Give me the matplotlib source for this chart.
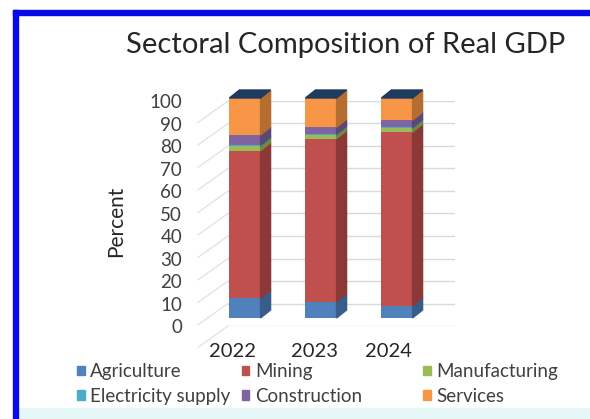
import numpy as np
import matplotlib.pyplot as plt
from matplotlib.patches import Polygon, Rectangle, Patch
from matplotlib.transforms import ScaledTranslation

plt.rcParams['font.family'] = ['Lato', 'DejaVu Sans']

# data (percent of real GDP)
years = ['2022', '2023', '2024']
sectors = ['Agriculture', 'Mining', 'Manufacturing',
           'Electricity supply', 'Construction', 'Services']
agriculture = [9.0, 7.5, 5.5]
mining = [67.0, 74.0, 79.0]
manufacturing = [2.2, 1.8, 1.8]
electricity = [0.5, 0.4, 0.4]
construction = [4.5, 3.0, 3.2]
services = [16.8, 13.3, 10.1]
series = [agriculture, mining, manufacturing, electricity, construction, services]

front_colors = ['#4f81bd', '#c0504d', '#9bbb59', '#4bacc6', '#8064a2', '#f79646']
side_colors = ['#385d8a', '#8c3836', '#71893f', '#357d91', '#5c4776', '#b66d31']
top_color = '#1f3a5f'

W, H = 590, 419
fig = plt.figure(figsize=(W / 100, H / 100), dpi=100)


def box(x0, y0, x1, y1):
    # pixel box (from top-left) -> figure fraction rect
    return [x0 / W, 1 - y1 / H, (x1 - x0) / W, (y1 - y0) / H]


# frame decoration
fig.patches.append(Rectangle((18 / W, 0), 1, 11 / H, transform=fig.transFigure,
                             color='#e6f7f8', zorder=0))
fig.patches.append(Rectangle((13 / W, 0), 5 / W, 1 - 10 / H, transform=fig.transFigure,
                             color='#0a0ae6', zorder=1))
fig.patches.append(Rectangle((13 / W, 1 - 15 / H), 1, 5 / H, transform=fig.transFigure,
                             color='#0a0ae6', zorder=1))

# back wall with gridlines and value axis
ax = fig.add_axes(box(228, 101, 455, 326))
ax.set_ylim(0, 100)
ax.set_yticks(np.arange(0, 101, 10))
ax.set_xticks([])
ax.grid(axis='y', color='#d9d9d9', lw=1)
for s in ax.spines.values():
    s.set_visible(False)
ax.tick_params(axis='y', length=0, pad=33, labelsize=13.5, labelcolor='#404040')
for g in np.arange(0, 101, 10):
    ax.plot([-30 / 227, 0], [g - 9.5, g], transform=ax.get_yaxis_transform(),
            clip_on=False, color='#e3e3e3', lw=1)

# bars
ax2 = fig.add_axes(box(207, 98, 435, 318))
ax2.set_xlim(-0.5, 2.5)
ax2.set_ylim(0, 100)
ax2.patch.set_alpha(0)
for s in ax2.spines.values():
    s.set_visible(False)
ax2.set_yticks([])

x = np.arange(len(years))
width = 0.41
dx = 10 / 76
dy = 8 / 2.2
bottom = np.zeros(len(years))
for vals, fc, sc in zip(series, front_colors, side_colors):
    vals = np.array(vals)
    ax2.bar(x, vals, width, bottom=bottom, color=fc, zorder=2)
    for xi, b, v in zip(x, bottom, vals):
        xr = xi + width / 2
        ax2.add_patch(Polygon([(xr, b), (xr + dx, b + dy), (xr + dx, b + v + dy), (xr, b + v)],
                              closed=True, color=sc, clip_on=False, zorder=2))
    bottom = bottom + vals
for xi, t in zip(x, bottom):
    xl, xr = xi - width / 2, xi + width / 2
    ax2.add_patch(Polygon([(xl, t), (xl + dx, t + dy), (xr + dx, t + dy), (xr, t)],
                          closed=True, color=top_color, clip_on=False, zorder=3))

ax2.set_xticks(x)
ax2.set_xticklabels(years, fontsize=14.5, color='#262626')
ax2.tick_params(axis='x', length=0, pad=18)
for lab, off in zip(ax2.get_xticklabels(), [-12, -6, -8]):
    lab.set_transform(lab.get_transform() + ScaledTranslation(off / 100, 0, fig.dpi_scale_trans))

fig.text(346 / W, 1 - 45 / H, 'Sectoral Composition of Real GDP', ha='center', va='center',
         fontsize=21, color='#262626')
fig.text(116 / W, 1 - 221 / H, 'Percent', rotation=90, ha='center', va='center',
         fontsize=15, color='#262626')

# legend in three columns
col_x = [77, 242, 423]
for c in range(3):
    idx = [c, c + 3]
    handles = [Patch(color=front_colors[i]) for i in idx]
    fig.legend(handles, [sectors[i] for i in idx], loc='upper left',
               bbox_to_anchor=(col_x[c] / W, 1 - 363 / H), frameon=False,
               fontsize=13.5, handlelength=0.4, handleheight=0.4, handletextpad=0.3,
               labelspacing=0.42, borderpad=0, borderaxespad=0, labelcolor='#404040')

fig.savefig('out.png', dpi=100)
